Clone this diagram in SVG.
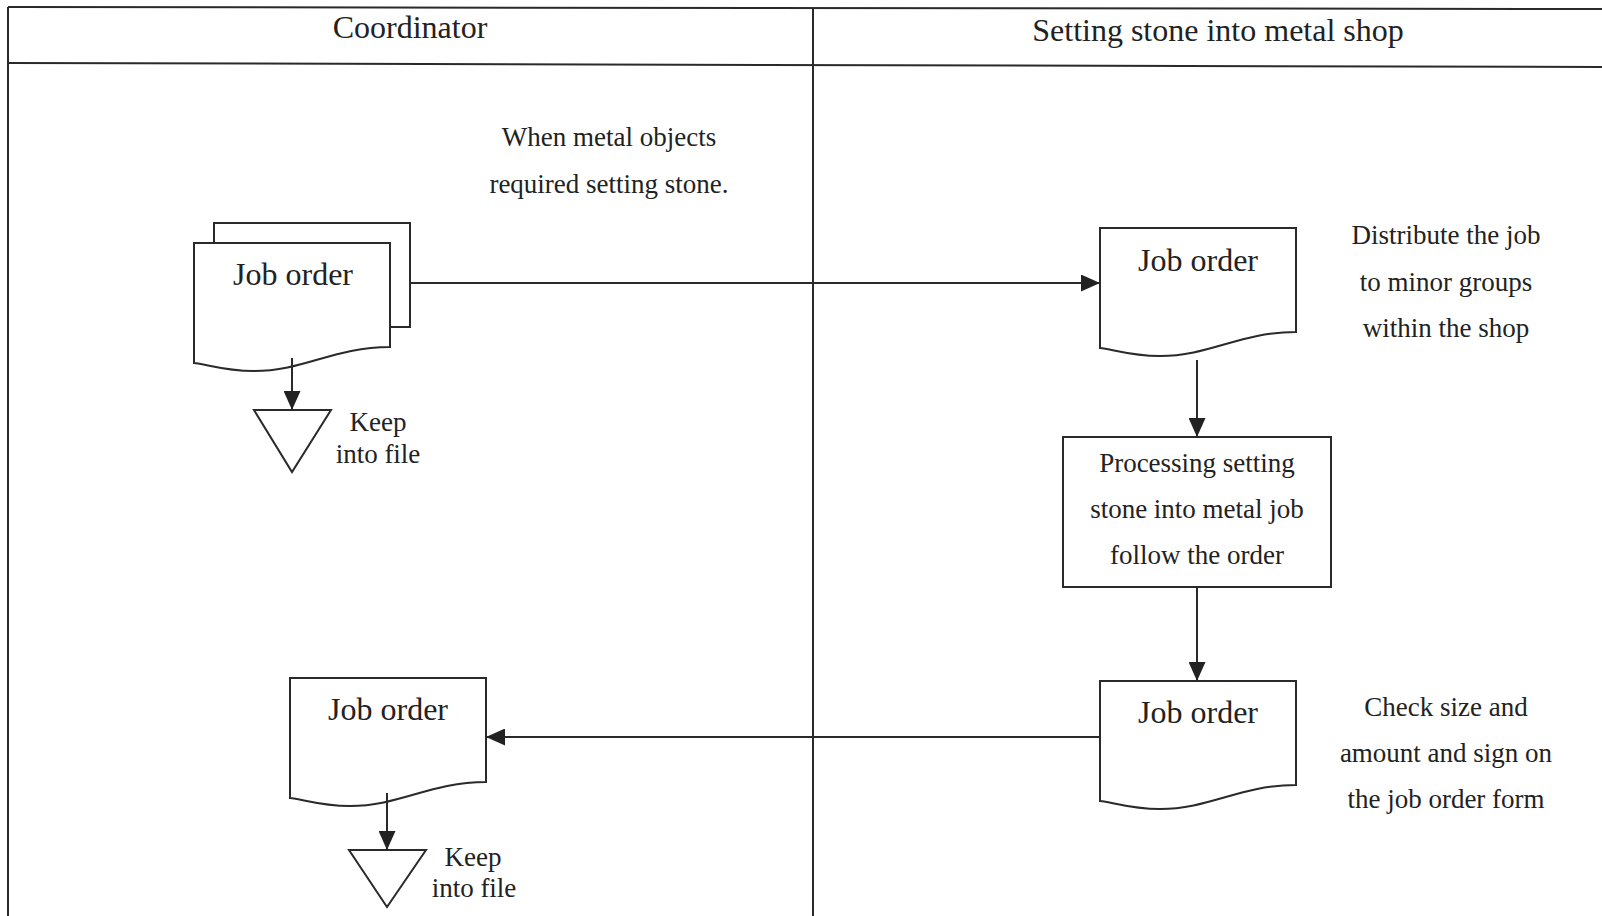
<svg xmlns="http://www.w3.org/2000/svg" xmlns:xlink="http://www.w3.org/1999/xlink" width="1602" height="916" viewBox="0 0 1602 916">
<style>
.ln{stroke:#2a2a2a;stroke-width:2;fill:none}
.shape{stroke:#2a2a2a;stroke-width:2;fill:#fff}
.t{font-family:"Liberation Serif","Times New Roman",serif;fill:#222;text-anchor:middle}
.h{font-size:32px}
.j{font-size:32px}
.s{font-size:27px}
</style>
<defs>
<path id="doc" d="M0,0 H196 V104 C140,104 110,128 60,128 C30,128 12,121 0,120 Z"/>
<marker id="ah" markerWidth="19" markerHeight="17" refX="19" refY="8.5" orient="auto" markerUnits="userSpaceOnUse">
<path d="M0,0 L19,8.5 L0,17 Z" fill="#222"/>
</marker>
</defs>
<rect width="1602" height="916" fill="#fff"/>
<g id="lanes">
<line class="ln" x1="8" y1="7" x2="1602" y2="9"/>
<line class="ln" x1="8" y1="63" x2="1602" y2="67"/>
<line class="ln" x1="8" y1="7" x2="8" y2="916"/>
<line class="ln" x1="813" y1="8" x2="813" y2="916"/>
<text class="t h" x="410" y="38">Coordinator</text>
<text class="t h" x="1218" y="41">Setting stone into metal shop</text>
</g>
<g id="note-when">
<text class="t s" x="609" y="146">When metal objects</text>
<text class="t s" x="609" y="193">required setting stone.</text>
</g>
<g id="doc-coord-1">
<rect class="shape" x="214" y="223" width="196" height="104"/>
<use href="#doc" xlink:href="#doc" class="shape" x="194" y="243"/>
<text class="t j" x="293" y="285">Job order</text>
</g>
<g id="file-1">
<path class="shape" d="M254,410 H331 L292,472 Z"/>
<text class="t s" x="378" y="431">Keep</text>
<text class="t s" x="378" y="463">into file</text>
</g>
<g id="doc-shop-1">
<use href="#doc" xlink:href="#doc" class="shape" x="1100" y="228"/>
<text class="t j" x="1198" y="271">Job order</text>
</g>
<g id="note-distribute">
<text class="t s" x="1446" y="244">Distribute the job</text>
<text class="t s" x="1446" y="291">to minor groups</text>
<text class="t s" x="1446" y="337">within the shop</text>
</g>
<g id="process">
<rect class="shape" x="1063" y="437" width="268" height="150"/>
<text class="t s" x="1197" y="472">Processing setting</text>
<text class="t s" x="1197" y="518">stone into metal job</text>
<text class="t s" x="1197" y="564">follow the order</text>
</g>
<g id="doc-shop-2">
<use href="#doc" xlink:href="#doc" class="shape" x="1100" y="681"/>
<text class="t j" x="1198" y="723">Job order</text>
</g>
<g id="note-check">
<text class="t s" x="1446" y="716">Check size and</text>
<text class="t s" x="1446" y="762">amount and sign on</text>
<text class="t s" x="1446" y="808">the job order form</text>
</g>
<g id="doc-coord-2">
<use href="#doc" xlink:href="#doc" class="shape" x="290" y="678"/>
<text class="t j" x="388" y="720">Job order</text>
</g>
<g id="file-2">
<path class="shape" d="M349,850 H426 L387,907 Z"/>
<text class="t s" x="473" y="866">Keep</text>
<text class="t s" x="474" y="897">into file</text>
</g>
<g id="connectors">
<line class="ln" x1="410" y1="283" x2="1100" y2="283" marker-end="url(#ah)"/>
<line class="ln" x1="292" y1="358" x2="292" y2="410" marker-end="url(#ah)"/>
<line class="ln" x1="1197" y1="360" x2="1197" y2="437" marker-end="url(#ah)"/>
<line class="ln" x1="1197" y1="587" x2="1197" y2="681" marker-end="url(#ah)"/>
<line class="ln" x1="1100" y1="737" x2="486" y2="737" marker-end="url(#ah)"/>
<line class="ln" x1="387" y1="793" x2="387" y2="850" marker-end="url(#ah)"/>
</g>
</svg>
